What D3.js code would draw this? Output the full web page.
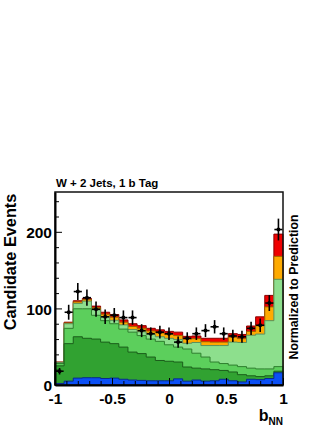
<!DOCTYPE html>
<html lang="en">
<head>
    <meta charset="UTF-8">
    <title>W + 2 Jets, 1 b Tag</title>
    <style>
        body {
            margin: 0;
            background: #fff;
            font-family: "Liberation Sans", Arial, Helvetica, sans-serif;
        }
        svg text {
            font-weight: bold;
            fill: #000;
        }
    </style>
</head>
<body>
<svg id="chart"></svg>

<script src="https://cdn.jsdelivr.net/npm/d3@7"></script>
<script>
    // 25 bins from -1 to 1
    const xMin = -1, xMax = 1, nBins = 25;

    // observed events per bin
    const observed = [18, 95, 122, 114, 99, 89, 91, 88, 88, 71, 67, 69, 67, 56, 61,
                      67, 71, 76, 67, 64, 63, 74, 78, 107, 203];

    // predicted contributions per bin, bottom of the stack first
    const blueBkg   = [2, 5, 9, 9.5, 9.5, 8.5, 9, 7.5, 6.5, 6, 5.5, 5.5, 5.5, 8, 5,
                       6.5, 5, 5.5, 7.5, 5.5, 4, 7.5, 7, 8.5, 16];
    const darkGreen = [23, 49, 54, 51.5, 50.5, 47.5, 45, 42, 36.5, 35, 31, 26.5, 25.5, 22, 18.5,
                       15.5, 16, 14.5, 11.5, 11.5, 9.5, 4.5, 4, 3.5, 2];
    const midGreen  = [3, 20, 36.5, 38.5, 31, 28, 26, 23.5, 26, 23.5, 23.5, 25, 21.5, 19.5, 23.5,
                       19.5, 15.5, 10, 9, 9, 10.5, 10, 10, 9, 6];
    const lightGreen = [1.2, 6, 7, 10, 7, 5.5, 4.5, 5.5, 3.5, 5, 6, 6, 8.5, 10, 7.5,
                        14, 15, 21.5, 23.5, 30, 31.5, 43, 45.5, 63, 114];
    const orangeSig = [0.5, 1, 2, 2, 3, 3, 4, 3.5, 4, 4.5, 4.5, 5, 5, 5, 5.5,
                       5, 5, 4.5, 4.5, 6.5, 5, 5, 11, 18, 30];
    const redSig    = [0.3, 1, 1.5, 1.5, 2, 2.5, 3.5, 3, 3.5, 3.5, 3.5, 4, 4, 4.5, 3.5,
                       3.5, 4.5, 5, 5, 4.5, 5.5, 7, 11.5, 15, 29];

    const xTicks = [-1, -0.5, 0, 0.5, 1];
    const yTicks = [0, 100, 200];

    const width = 332, height = 430;
    const margin = {top: 192, right: 49, bottom: 45, left: 55};

    const svg = d3.select("#chart")
        .attr("width", width)
        .attr("height", height);

    const x = d3.scaleLinear().domain([xMin, xMax]).range([margin.left, width - margin.right]);
    const y = d3.scaleLinear().domain([0, 252]).range([height - margin.bottom, margin.top]);

    const binW = (xMax - xMin) / nBins;
    const edges = d3.range(nBins + 1).map(i => xMin + i * binW);

    const layers = [
        {key: "blue",   values: blueBkg,    fill: "#0b4ff5", stroke: "#0a2a8a"},
        {key: "dkgrn",  values: darkGreen,  fill: "#31a231", stroke: "#1b5e1b"},
        {key: "midgrn", values: midGreen,   fill: "#5ccf5c", stroke: "#2f7f2f"},
        {key: "ltgrn",  values: lightGreen, fill: "#8ddf8d", stroke: "#5c8f5c"},
        {key: "orange", values: orangeSig,  fill: "#ffaa00", stroke: "#9a6200"},
        {key: "red",    values: redSig,     fill: "#f00000", stroke: "#8a0000"}
    ];

    const rows = d3.range(nBins).map(i => {
        const r = {};
        layers.forEach(l => r[l.key] = l.values[i]);
        return r;
    });
    const stacked = d3.stack().keys(layers.map(l => l.key))(rows);

    const area = d3.area()
        .curve(d3.curveStepAfter)
        .x(p => x(p.x))
        .y0(y(0))
        .y1(p => y(p.v));

    // draw cumulative histograms from the top down, ROOT style
    stacked.slice().reverse().forEach(s => {
        const l = layers.find(d => d.key === s.key);
        const pts = s.map((d, i) => ({x: edges[i], v: d[1]}));
        pts.push({x: edges[nBins], v: s[nBins - 1][1]});
        svg.append("path")
            .attr("d", area(pts))
            .attr("fill", l.fill)
            .attr("stroke", l.stroke)
            .attr("stroke-width", 1);
    });

    // data points with error bars
    const pts = svg.append("g");
    observed.forEach((n, i) => {
        const cx = x(edges[i] + binW / 2);
        const err = Math.sqrt(n);
        pts.append("line")
            .attr("x1", cx).attr("x2", cx)
            .attr("y1", y(n - err)).attr("y2", y(n + err))
            .attr("stroke", "#000").attr("stroke-width", 1.6);
        pts.append("line")
            .attr("x1", x(edges[i]) + 0.5).attr("x2", x(edges[i + 1]) - 0.5)
            .attr("y1", y(n)).attr("y2", y(n))
            .attr("stroke", "#000").attr("stroke-width", 1.6);
        pts.append("circle")
            .attr("cx", cx).attr("cy", y(n)).attr("r", 2)
            .attr("fill", "#000");
    });

    // frame
    svg.append("rect")
        .attr("x", x(xMin)).attr("y", y(252))
        .attr("width", x(xMax) - x(xMin)).attr("height", y(0) - y(252))
        .attr("fill", "none").attr("stroke", "#111").attr("stroke-width", 1.5);

    // y axis
    svg.append("g")
        .attr("transform", `translate(${x(xMin)},0)`)
        .call(d3.axisLeft(y).tickValues(d3.range(20, 252, 20).filter(v => v % 100 !== 0))
            .tickSize(-4).tickSizeOuter(0).tickFormat(""))
        .call(g => g.select(".domain").remove());
    svg.append("g")
        .attr("transform", `translate(${x(xMin)},0)`)
        .call(d3.axisLeft(y).tickValues(yTicks).tickSize(-7).tickSizeOuter(0).tickPadding(3)
            .tickFormat(d => String(d)))
        .call(g => g.select(".domain").attr("stroke-width", 2))
        .call(g => g.selectAll("text").style("font-size", "15.5px").attr("dy", "0.36em"));

    // x axis
    svg.append("g")
        .attr("transform", `translate(0,${y(0)})`)
        .call(d3.axisBottom(x).tickValues(d3.range(-9, 10).map(v => v / 10).filter(v => v % 0.5 !== 0))
            .tickSize(-4).tickSizeOuter(0).tickFormat(""))
        .call(g => g.select(".domain").remove());
    svg.append("g")
        .attr("transform", `translate(0,${y(0)})`)
        .call(d3.axisBottom(x).tickValues(xTicks).tickSize(-7).tickSizeOuter(0).tickPadding(8)
            .tickFormat(d => String(d)))
        .call(g => g.select(".domain").attr("stroke-width", 2))
        .call(g => g.selectAll("text").style("font-size", "15.5px"));

    svg.selectAll(".tick line").attr("stroke", "#000");

    // titles
    svg.append("text")
        .attr("x", x(xMin) + 1).attr("y", 187)
        .style("font-size", "11.5px")
        .text("W + 2 Jets, 1 b Tag");

    svg.append("text")
        .attr("transform", "translate(16,262) rotate(-90)")
        .attr("text-anchor", "middle")
        .style("font-size", "16.3px")
        .text("Candidate Events");

    svg.append("text")
        .attr("transform", "translate(298,287) rotate(-90)")
        .attr("text-anchor", "middle")
        .style("font-size", "12.3px")
        .text("Normalized to Prediction");

    const xl = svg.append("text")
        .attr("x", x(xMax)).attr("y", 421)
        .attr("text-anchor", "end");
    xl.append("tspan").style("font-size", "16px").text("b");
    xl.append("tspan").attr("dy", 4).style("font-size", "10px").text("NN");
</script>
</body>
</html>
